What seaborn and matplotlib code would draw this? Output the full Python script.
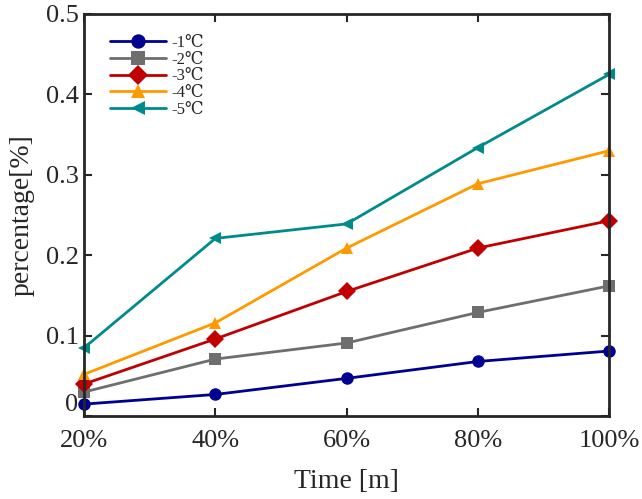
import matplotlib
matplotlib.use("Agg")
import matplotlib.pyplot as plt
import seaborn as sns
import pandas as pd

TIME_LABELS = ["20%", "40%", "60%", "80%", "100%"]
SERIES = ["-1℃", "-2℃", "-3℃", "-4℃", "-5℃"]
T1 = [0.015, 0.027, 0.047, 0.068, 0.081]
T2 = [0.030, 0.071, 0.091, 0.129, 0.162]
T3 = [0.040, 0.096, 0.155, 0.209, 0.243]
T4 = [0.052, 0.116, 0.209, 0.289, 0.330]
T5 = [0.085, 0.221, 0.239, 0.334, 0.425]

COLORS = ["#000090", "#6e6e6e", "#c00000", "#ff9900", "#008b8b"]
MARKERS = ["o", "s", "D", "^", "<"]

rows = []
for name, vals in zip(SERIES, [T1, T2, T3, T4, T5]):
    for i, v in enumerate(vals):
        rows.append({"x": i, "value": v, "series": name})
df = pd.DataFrame(rows)

sns.set_style("ticks")
plt.rcParams["font.family"] = ["Liberation Serif", "DejaVu Serif"]

fig = plt.figure(figsize=(6.42, 4.99), dpi=100)
ax = fig.add_axes([0.131, 0.166, 0.818, 0.806])

sns.lineplot(data=df, x="x", y="value", hue="series", style="series",
             palette=dict(zip(SERIES, COLORS)),
             markers=dict(zip(SERIES, MARKERS)), dashes=False,
             linewidth=2, markersize=9, markeredgewidth=0,
             clip_on=False, zorder=3, ax=ax)

ax.set_xlim(0, 4)
ax.set_ylim(0, 0.5)
ax.set_xticks(range(len(TIME_LABELS)))
ax.set_xticklabels(TIME_LABELS)
ax.set_yticks([0, 0.1, 0.2, 0.3, 0.4, 0.5])
ax.set_yticklabels(["0", "0.1", "0.2", "0.3", "0.4", "0.5"])
ax.tick_params(direction="in", top=True, right=True, labelsize=19,
               length=6, width=1.5, color="#262626")
ax.tick_params(axis="x", pad=10)
ax.tick_params(axis="y", pad=4)
ax.get_yticklabels()[0].set_va("bottom")
for s in ax.spines.values():
    s.set_linewidth(2)
    s.set_color("#262626")
    s.set_zorder(4)
ax.set_xlabel("Time [m]", fontsize=20, labelpad=12)
ax.set_ylabel("percentage[%]", fontsize=20, labelpad=8)

leg = ax.legend(loc="upper left", frameon=False, fontsize=12,
                handlelength=3.4, handletextpad=0.3, labelspacing=0.04,
                markerscale=1.15, bbox_to_anchor=(0.02, 0.985))

fig.savefig("out.png", dpi=100)
